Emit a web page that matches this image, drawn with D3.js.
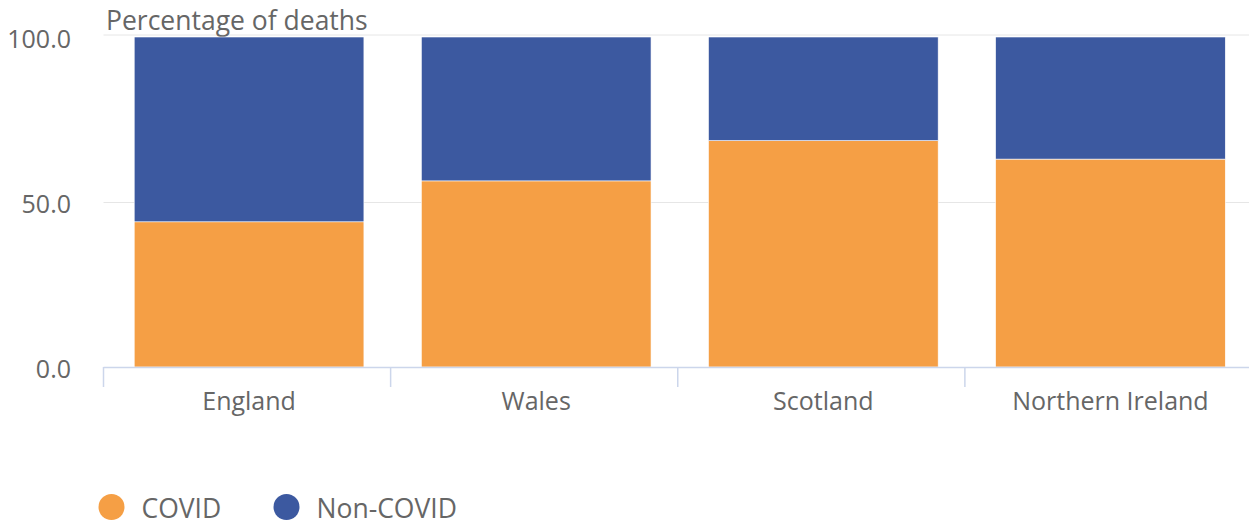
<!DOCTYPE html>
<html>
<head>
<meta charset="utf-8">
<script src="https://cdn.jsdelivr.net/npm/d3@7"></script>
<style>
body{margin:0;background:#fff;}
text{font-family:"Open Sans",sans-serif;fill:#666;}
</style>
</head>
<body>
<script>
var countries = ['England','Wales','Scotland','Northern Ireland'];
var covid = [44.0, 56.4, 68.6, 63.0];
var nonCovid = [56.0, 43.6, 31.4, 37.0];
var yTicks = [0, 50, 100];
var seriesNames = ['COVID','Non-COVID'];
var colors = ['#f59f45','#3c59a0'];

var width = 1249, height = 523;
var plotLeft = 103.5, plotRight = 1252, plotTop = 37, plotBottom = 367;

var svg = d3.select('body').append('svg')
	.attr('width',width)
	.attr('height',height);

// bars sit ~2px right of the band centre in the original
var x = d3.scaleBand()
	.domain(countries)
	.range([plotLeft+2,plotRight+2])
	.paddingInner(0.2)
	.paddingOuter(0.1);
var y = d3.scaleLinear()
	.domain([0,100])
	.range([plotBottom,plotTop]);

// grid lines
svg.append('g').selectAll('line')
	.data(yTicks.filter(d=>d>0))
	.enter().append('line')
	.attr('x1',plotLeft).attr('x2',width)
	.attr('y1',d=>d===100 ? y(d)-2 : y(d)+0.5)
	.attr('y2',d=>d===100 ? y(d)-2 : y(d)+0.5)
	.attr('stroke','#e6e6e6')
	.attr('stroke-width',1);

// y labels
svg.append('g').selectAll('text')
	.data(yTicks)
	.enter().append('text')
	.attr('x',71)
	.attr('y',d=>y(d)+11)
	.attr('text-anchor','end')
	.style('font-size','25px')
	.text(d=>d.toFixed(1));

svg.append('text')
	.attr('x',106)
	.attr('y',30)
	.style('font-size','26.5px')
	.text('Percentage of deaths');

// stacked bars
var rows = countries.map((c,i)=>({country:c, COVID:covid[i], 'Non-COVID':nonCovid[i]}));
var stack = d3.stack().keys(seriesNames)(rows);

svg.append('g').selectAll('g')
	.data(stack)
	.enter().append('g')
	.attr('fill',(d,i)=>colors[i])
	.selectAll('rect')
	.data(d=>d)
	.enter().append('rect')
	.attr('x',d=>x(d.data.country))
	.attr('width',x.bandwidth())
	.attr('y',d=>y(d[1]))
	.attr('height',d=>y(d[0])-y(d[1]))
	.attr('stroke','#fff')
	.attr('stroke-width',0.6);

// x axis
var xAxis = svg.append('g');
xAxis.append('line')
	.attr('x1',plotLeft).attr('x2',plotRight)
	.attr('y1',plotBottom+0.5).attr('y2',plotBottom+0.5)
	.attr('stroke','#ccd6eb')
	.attr('stroke-width',1.5);
var bounds = d3.range(countries.length+1).map(i=>plotLeft+i*x.step());
xAxis.selectAll('.tick')
	.data(bounds)
	.enter().append('line')
	.attr('x1',d=>d).attr('x2',d=>d)
	.attr('y1',plotBottom).attr('y2',plotBottom+20)
	.attr('stroke','#ccd6eb')
	.attr('stroke-width',1.5);
xAxis.selectAll('text')
	.data(countries)
	.enter().append('text')
	.attr('x',d=>x(d)+x.bandwidth()/2)
	.attr('y',410)
	.attr('text-anchor','middle')
	.style('font-size','25px')
	.text(d=>d);

// legend
var legend = svg.append('g');
var legX = [111.5, 286.5];
seriesNames.forEach(function(s,i){
	legend.append('circle')
		.attr('cx',legX[i]).attr('cy',507)
		.attr('r',13)
		.attr('fill',colors[i]);
	legend.append('text')
		.attr('x',legX[i]+30)
		.attr('y',518)
		.style('font-size','26.5px')
		.text(s);
});
</script>
</body>
</html>
